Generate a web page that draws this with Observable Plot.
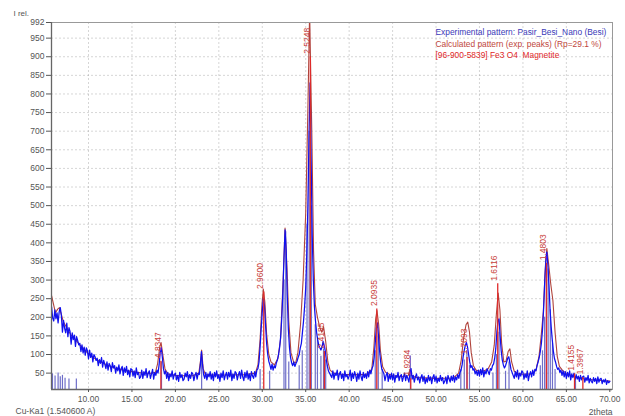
<!DOCTYPE html>
<html><head><meta charset="utf-8">
<script src="https://cdn.jsdelivr.net/npm/d3@7"></script>
<script src="https://cdn.jsdelivr.net/npm/@observablehq/plot@0.6"></script>
<style>
body{margin:0;background:#fff;}
#chart{width:625px;height:416px;overflow:hidden;}
</style></head><body><div id="chart"></div>
<script>
// ---- Experimental pattern (2theta from 5.75, step 0.125) ----
const thetaStart = 5.75, thetaStep = 0.125;
const expIntensity = [
  228, 198,
  190, 220, 196, 212, 185, 215, 226, 205,   // 6
  160, 192, 170, 158, 184, 148, 172, 162,   // 7
  128, 158, 140, 152, 122, 148, 138, 126,   // 8
  130, 108, 126, 104, 120, 98, 118, 110,    // 9
  88, 112, 92, 104, 80, 100, 94, 84,        // 10
  90, 70, 86, 76, 92, 66, 84, 74,           // 11
  62, 80, 58, 76, 70, 54, 78, 64,           // 12
  70, 50, 66, 56, 72, 48, 62, 68,           // 13
  44, 64, 52, 68, 46, 58, 40, 62,           // 14
  60, 42, 56, 38, 64, 46, 52, 36,           // 15
  40, 58, 36, 54, 44, 62, 38, 50,           // 16
  56, 36, 48, 60, 34, 52, 44, 58,           // 17
  50, 72, 105, 118, 92, 62, 48, 56,         // 18
  36, 52, 30, 48, 40, 56, 34, 46,           // 19
  50, 32, 44, 28, 52, 38, 46, 30,           // 20
  34, 50, 40, 54, 30, 46, 36, 52,           // 21
  48, 30, 44, 52, 34, 50, 46, 72,           // 22
  108, 72, 46, 36, 52, 32, 48, 40,          // 23
  54, 34, 48, 30, 52, 40, 56, 36,           // 24
  46, 28, 50, 38, 56, 32, 44, 52,           // 25
  34, 52, 40, 58, 30, 48, 36, 54,           // 26
  50, 32, 46, 54, 36, 58, 40, 30,           // 27
  52, 38, 56, 34, 48, 30, 54, 42,           // 28
  36, 54, 40, 58, 62, 80, 120, 170,         // 29
  215, 250, 232, 180, 130, 100, 82, 72,     // 30
  60, 74, 58, 70, 64, 78, 86, 100,          // 31
  120, 150, 200, 270, 360, 435, 380, 260,   // 32
  170, 120, 92, 78, 70, 80, 68, 76,         // 33
  82, 92, 100, 118, 130, 160, 190, 230,     // 34
  280, 370, 500, 680, 830, 620, 420, 300,   // 35
  230, 190, 160, 140, 125, 118, 112, 120,   // 36
  135, 125, 110, 85, 68, 55, 50, 44,        // 37
  38, 56, 34, 50, 44, 58, 32, 48,           // 38
  54, 36, 48, 30, 56, 40, 46, 34,           // 39
  42, 58, 30, 50, 36, 54, 44, 28,           // 40
  50, 34, 56, 40, 30, 52, 38, 48,           // 41
  36, 54, 40, 58, 48, 62, 70, 92,           // 42
  130, 170, 185, 150, 110, 80, 62, 55,      // 43
  48, 30, 44, 52, 28, 46, 34, 50,           // 44
  32, 48, 26, 44, 38, 52, 30, 42,           // 45
  46, 28, 40, 50, 30, 44, 36, 26,           // 46
  50, 62, 34, 44, 26, 40, 48, 32,           // 47
  40, 24, 38, 46, 28, 42, 22, 36,           // 48
  26, 44, 30, 40, 22, 38, 46, 28,           // 49
  42, 24, 36, 28, 44, 30, 38, 22,           // 50
  28, 40, 22, 44, 34, 26, 42, 30,           // 51
  44, 26, 40, 32, 46, 36, 52, 58,           // 52
  72, 95, 112, 125, 132, 120, 100, 80,      // 53
  65, 70, 58, 62, 48, 56, 44, 58,           // 54
  42, 60, 46, 64, 40, 56, 48, 62,           // 55
  54, 46, 62, 58, 70, 75, 90, 115,          // 56
  160, 190, 196, 150, 110, 85, 72, 64,      // 57
  70, 80, 90, 94, 78, 60, 52, 44,           // 58
  36, 54, 40, 58, 34, 50, 42, 56,           // 59
  52, 34, 48, 38, 56, 30, 46, 54,           // 60
  40, 58, 44, 60, 56, 70, 80, 92,           // 61
  108, 130, 165, 220, 290, 350, 375, 340,   // 62
  285, 220, 175, 140, 110, 90, 80, 68,      // 63
  60, 64, 52, 58, 44, 56, 40, 54,           // 64
  36, 52, 40, 56, 32, 48, 38, 50,           // 65
  30, 46, 34, 42, 28, 44, 32, 40,           // 66
  42, 26, 38, 30, 44, 24, 36, 28,           // 67
  24, 38, 28, 36, 22, 40, 26, 34,           // 68
  36, 22, 32, 26, 34, 20, 30, 24,           // 69
  28                                        // 70
];

// ---- Calculated pattern (exp. peaks): [2theta, I] ----
const calcPattern = [
  [5.75,258],[6.0,232],[6.2,212],[6.45,222],[6.65,226],[6.85,210],[7.1,188],[7.5,172],[8,152],[8.5,140],
  [9,126],[9.5,114],[10,102],[10.5,93],[11,85],[12,73],[13,64],[14,58],[15,54],[16,51],[17,49],
  [17.7,52],[17.95,75],[18.2,120],[18.35,132],[18.55,100],[18.8,62],[19.1,48],[20,44],[21,43],[22,43],
  [22.7,50],[22.9,85],[23.02,112],[23.2,62],[23.45,46],[24,45],[26,45],[28,46],[29.2,50],[29.5,72],
  [29.75,140],[29.95,230],[30.12,276],[30.3,240],[30.5,155],[30.75,100],[31.0,80],[31.4,72],[31.8,90],
  [32.1,140],[32.4,300],[32.62,440],[32.85,330],[33.05,190],[33.3,105],[33.6,80],[33.85,78],[34.1,105],
  [34.4,180],[34.7,300],[35.0,480],[35.25,760],[35.45,1020],[35.7,700],[35.9,380],[36.1,235],[36.35,200],
  [36.6,175],[36.85,160],[37.05,175],[37.3,135],[37.55,80],[37.8,58],[38.2,50],[39,47],[40,46],[41,46],
  [42,47],[42.6,60],[42.85,120],[43.05,195],[43.2,218],[43.4,180],[43.6,110],[43.85,68],[44.2,52],[45,43],
  [46,41],[46.8,43],[47.0,60],[47.2,44],[47.6,39],[48,38],[50,36],[52,37],[52.6,50],[52.9,85],[53.15,140],
  [53.45,180],[53.65,187],[53.85,160],[54.05,105],[54.3,70],[54.6,58],[55,55],[55.5,56],[56,62],[56.4,80],
  [56.7,125],[56.95,210],[57.15,265],[57.35,220],[57.55,130],[57.8,80],[58.05,82],[58.3,108],[58.5,115],
  [58.7,80],[59,55],[59.5,48],[60,47],[61,48],[61.5,58],[61.85,95],[62.1,150],[62.35,215],[62.55,320],
  [62.75,385],[62.95,345],[63.2,290],[63.45,245],[63.7,160],[63.95,95],[64.2,68],[64.6,56],[65,50],
  [65.5,44],[66,40],[67,35],[68,32],[69,30],[70,29]
];

// ---- Experimental peak sticks: [2theta, I] ----
const expPeaks = [
  [5.85,48],[6.15,42],[6.5,50],[6.75,40],[7.0,44],[7.3,36],[7.75,34],[8.6,34],
  [18.4,80],[23.02,100],[29.75,60],[30.85,55],[32.5,300],[32.7,430],[33.05,80],
  [34.25,70],[34.6,110],[35.15,450],[35.4,700],[35.65,500],[36.1,180],[36.35,140],
  [36.75,95],[37.05,115],[37.3,85],[43.0,110],[43.35,150],[43.8,60],[47.05,96],
  [52.85,60],[53.25,85],[53.55,110],[53.85,70],[56.55,50],[56.95,100],[57.25,160],
  [58.0,55],[58.4,80],[62.0,70],[62.25,110],[62.5,200],[62.7,300],[62.9,330],
  [63.15,220],[63.4,130],[63.7,60],[66.05,28]
];

// ---- Reference Fe3O4 Magnetite [96-900-5839] ----
const refTheta  = [18.33, 30.17, 35.53, 37.15, 43.18, 47.09, 53.57, 57.10, 62.71, 65.94, 66.9];
const refHeight = [82, 268, 900, 108, 222, 35, 92, 290, 345, 48, 38];
const refLabel  = ["4.8347","2.9600","2.5248","2.4185","2.0935","1.9284","1.7093","1.6116","1.4803","1.4155","1.3967"];

// ---- Axes ----
const xDomain = [5.74, 70.31];
const yDomain = [6, 992];
const xTicks = [10, 15, 20, 25, 30, 35, 40, 45, 50, 55, 60, 65, 70];
const xGrid = [10, 15, 20, 25, 30, 35, 40, 45, 50, 55, 60, 65];
const yTicks = [50,100,150,200,250,300,350,400,450,500,550,600,650,700,750,800,850,900,950,992];
const yGrid = [50,100,150,200,250,300,350,400,450,500,550,600,650,700,750,800,850,900,950];

const legendText = [
  "Experimental pattern: Pasir_Besi_Nano (Besi)",
  "Calculated pattern (exp. peaks) (Rp=29.1 %)",
  "[96-900-5839] Fe3 O4  Magnetite"
];
const yLabel = "I rel.";
const xLabel = "2theta";
const radiation = "Cu-Ka1 (1.540600 A)";

const expData = expIntensity.map((v, i) => ({t: thetaStart + i * thetaStep, v}));
const calcData = calcPattern.map(([t, v]) => ({t, v}));
const stickData = expPeaks.map(([t, v]) => ({t, v}));
const refData = refTheta.map((t, i) => ({t, v: refHeight[i], d: refLabel[i]}));
const legendColors = ["#3a3ab8", "#c0463c", "#e02828"];

const chart = Plot.plot({
  width: 625, height: 416,
  marginLeft: 51, marginRight: 13, marginTop: 22, marginBottom: 27,
  style: {fontFamily: "'Liberation Sans', Arial, sans-serif", fontSize: "8.5px", background: "#fff", color: "#555"},
  x: {domain: xDomain},
  y: {domain: yDomain},
  marks: [
    Plot.gridX(xGrid, {stroke: "#999", strokeOpacity: 0.4, strokeDasharray: "2,2"}),
    Plot.gridY(yGrid, {stroke: "#999", strokeOpacity: 0.4, strokeDasharray: "2,2"}),
    Plot.ruleX(stickData, {x: "t", y1: yDomain[0], y2: "v", stroke: "#6e6ec8", strokeWidth: 1.2, clip: true}),
    Plot.line(calcData, {x: "t", y: "v", stroke: "#b0443c", strokeWidth: 1.1, clip: true}),
    Plot.line(expData, {x: "t", y: "v", stroke: "#1010ee", strokeWidth: 1.25, clip: true}),
    Plot.ruleX(refData, {x: "t", y1: yDomain[0], y2: "v", stroke: "#e02a2a", strokeWidth: 1.3}),
    Plot.text(refData, {x: "t", y: "v", text: "d", rotate: -90, textAnchor: "start", lineAnchor: "middle", dx: -3, dy: -3, fill: "#c8403a", fontSize: 8.5}),
    Plot.frame({stroke: "#999"}),
    Plot.ruleX([xDomain[0]], {stroke: "#666", strokeWidth: 1.3}),
    Plot.ruleY([yDomain[0]], {stroke: "#666", strokeWidth: 1.3}),
    Plot.axisY(yTicks, {tickSize: 5, tickPadding: 2, label: null, color: "#555", fontSize: 8.5}),
    Plot.axisX(xTicks, {tickSize: 3, tickPadding: 3, label: null, color: "#555", fontSize: 8.5, tickFormat: d => d.toFixed(2)}),
    ...legendText.map((line, i) => Plot.text([line], {
      text: d => d, frameAnchor: "top-left", textAnchor: "start", lineAnchor: "middle",
      dx: 384, dy: 10 + i * 11.5, fill: legendColors[i], fontSize: 8.4
    })),
    Plot.text([yLabel], {text: d => d, frameAnchor: "top-left", textAnchor: "start", lineAnchor: "middle", dx: -38, dy: -9, fill: "#555", fontSize: 8}),
    Plot.text([radiation], {text: d => d, frameAnchor: "bottom-left", textAnchor: "start", lineAnchor: "middle", dx: -36, dy: 22, fill: "#555", fontSize: 8.5}),
    Plot.text([xLabel], {text: d => d, frameAnchor: "bottom-right", textAnchor: "end", lineAnchor: "middle", dx: 0, dy: 23, fill: "#555", fontSize: 8.5})
  ]
});
document.getElementById("chart").appendChild(chart);
</script>
</body></html>
